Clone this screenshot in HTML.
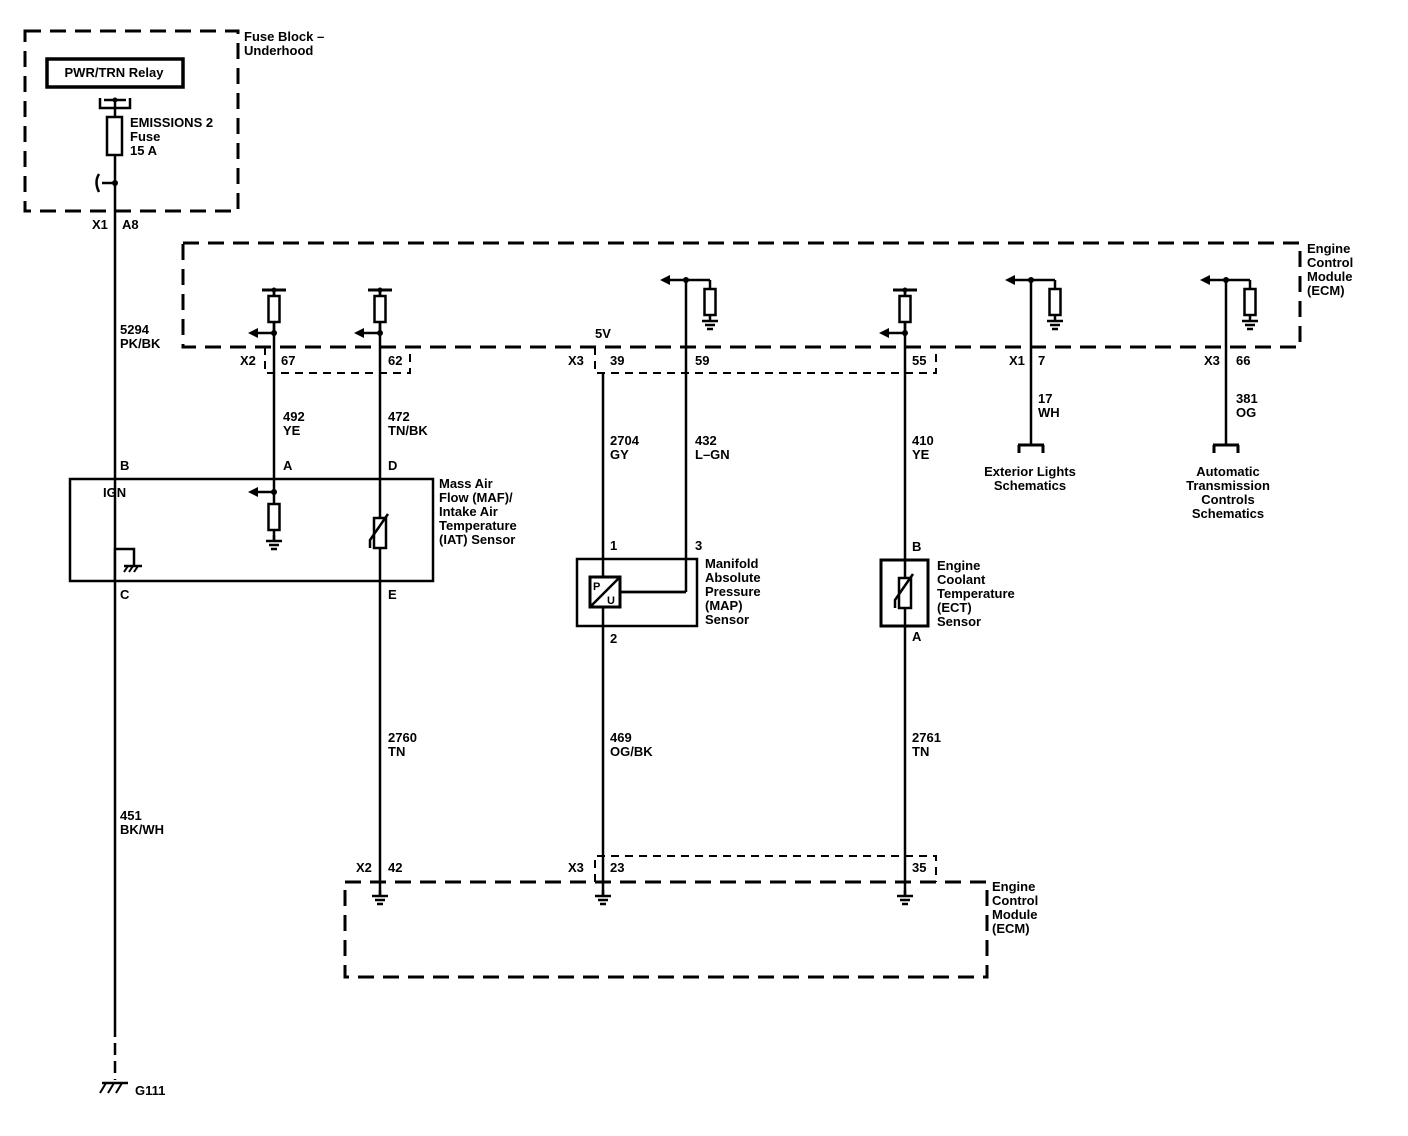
<!DOCTYPE html>
<html><head><meta charset="utf-8"><style>
body{margin:0;background:#fff;}
svg{display:block}
text{font-family:"Liberation Sans",Arial,sans-serif;font-size:13px;font-weight:bold;fill:#000;letter-spacing:0px}
</style></head><body>
<svg width="1408" height="1136" viewBox="0 0 1408 1136" xmlns="http://www.w3.org/2000/svg">
<defs>
<g id="gnd"><line x1="0" y1="0" x2="0" y2="6" stroke="#000" stroke-width="2.5"/><line x1="-8" y1="6" x2="8" y2="6" stroke="#000" stroke-width="2.5"/><line x1="-5" y1="10" x2="5" y2="10" stroke="#000" stroke-width="2.5"/><line x1="-3" y1="14" x2="3" y2="14" stroke="#000" stroke-width="2.5"/></g>
<g id="pull"><line x1="-12" y1="0" x2="12" y2="0" stroke="#000" stroke-width="3"/><circle cx="0" cy="0" r="2.5"/><line x1="0" y1="0" x2="0" y2="6" stroke="#000" stroke-width="2.5"/><rect x="-5.5" y="6" width="11" height="26" fill="#fff" stroke="#000" stroke-width="2.5"/><line x1="0" y1="32" x2="0" y2="43" stroke="#000" stroke-width="2.5"/><circle cx="0" cy="43" r="3"/><line x1="0" y1="43" x2="-18" y2="43" stroke="#000" stroke-width="2.5"/><polygon points="-26,43 -16,38 -16,48"/></g>
<g id="pdown"><circle cx="0" cy="0" r="3"/><line x1="0" y1="0" x2="-18" y2="0" stroke="#000" stroke-width="2.5"/><polygon points="-26,0 -16,-5 -16,5"/><line x1="0" y1="0" x2="24" y2="0" stroke="#000" stroke-width="2.5"/><line x1="24" y1="0" x2="24" y2="9" stroke="#000" stroke-width="2.5"/><rect x="18.5" y="9" width="11" height="26" fill="#fff" stroke="#000" stroke-width="2.5"/><use href="#gnd" x="24" y="35"/></g>
<g id="term"><line x1="-13" y1="0" x2="13" y2="0" stroke="#000" stroke-width="3"/><line x1="-12" y1="0" x2="-12" y2="8" stroke="#000" stroke-width="3"/><line x1="12" y1="0" x2="12" y2="8" stroke="#000" stroke-width="3"/></g>
<g id="therm"><rect x="-6" y="0" width="12" height="30" fill="#fff" stroke="#000" stroke-width="2.5"/><polyline points="-10,30 -10,22 8,-4" fill="none" stroke="#000" stroke-width="2.5"/></g>
</defs>
<g fill="none" stroke="#000" stroke-width="3" stroke-dasharray="16,9">
<rect x="25" y="31" width="213" height="180"/>
<rect x="183" y="243" width="1117" height="104"/>
<rect x="345" y="882" width="642" height="95"/>
</g>
<g fill="none" stroke="#000" stroke-width="2" stroke-dasharray="8,6">
<polyline points="265,347 265,373 410,373 410,347"/>
<polyline points="595,347 595,373 936,373 936,347"/>
<polyline points="595,882 595,856 936,856 936,882"/>
</g>
<rect x="47" y="59" width="136" height="28" fill="none" stroke="#000" stroke-width="3.5"/>
<text x="114" y="77" text-anchor="middle">PWR/TRN Relay</text>
<polyline points="100,98 100,108 130,108 130,98" fill="none" stroke="#000" stroke-width="2.5"/>
<line x1="104" y1="100" x2="126" y2="100" stroke="#000" stroke-width="2.5"/><circle cx="115" cy="100" r="2.5"/>
<rect x="107" y="117" width="15" height="38" fill="none" stroke="#000" stroke-width="2.5"/>
<line x1="115" y1="100" x2="115" y2="117" stroke="#000" stroke-width="2.5"/>
<text x="130" y="127">EMISSIONS 2</text><text x="130" y="141">Fuse</text><text x="130" y="155">15 A</text>
<circle cx="115" cy="183" r="3"/><line x1="102" y1="183" x2="115" y2="183" stroke="#000" stroke-width="2.5"/>
<path d="M99,174 q-5,8 0,18" fill="none" stroke="#000" stroke-width="2.5"/>
<text x="244" y="41">Fuse Block –</text><text x="244" y="55">Underhood</text>
<g stroke="#000" stroke-width="2.5">
<line x1="115" y1="155" x2="115" y2="1025"/>
<line x1="115" y1="1025" x2="115" y2="1080" stroke-dasharray="12,6"/>
<line x1="274" y1="290" x2="274" y2="540"/>
<line x1="380" y1="290" x2="380" y2="895"/>
<line x1="603" y1="373" x2="603" y2="895"/>
<line x1="686" y1="280" x2="686" y2="592"/>
<line x1="686" y1="592" x2="616" y2="592"/>
<line x1="905" y1="290" x2="905" y2="895"/>
<line x1="1031" y1="280" x2="1031" y2="445"/>
<line x1="1226" y1="280" x2="1226" y2="445"/>
</g>
<use href="#pull" x="274" y="290"/><use href="#pull" x="380" y="290"/><use href="#pull" x="905" y="290"/>
<use href="#pdown" x="686" y="280"/><use href="#pdown" x="1031" y="280"/><use href="#pdown" x="1226" y="280"/>
<text x="1307" y="253">Engine</text><text x="1307" y="267">Control</text><text x="1307" y="281">Module</text><text x="1307" y="295">(ECM)</text>
<text x="92" y="229">X1</text><text x="122" y="229">A8</text>
<text x="120" y="334">5294</text><text x="120" y="348">PK/BK</text>
<text x="240" y="365">X2</text><text x="281" y="365">67</text><text x="388" y="365">62</text>
<text x="595" y="338">5V</text><text x="568" y="365">X3</text><text x="610" y="365">39</text><text x="695" y="365">59</text><text x="912" y="365">55</text>
<text x="1009" y="365">X1</text><text x="1038" y="365">7</text><text x="1204" y="365">X3</text><text x="1236" y="365">66</text>
<text x="283" y="421">492</text><text x="283" y="435">YE</text>
<text x="388" y="421">472</text><text x="388" y="435">TN/BK</text>
<text x="610" y="445">2704</text><text x="610" y="459">GY</text>
<text x="695" y="445">432</text><text x="695" y="459">L–GN</text>
<text x="912" y="445">410</text><text x="912" y="459">YE</text>
<text x="1038" y="403">17</text><text x="1038" y="417">WH</text>
<text x="1236" y="403">381</text><text x="1236" y="417">OG</text>
<use href="#term" x="1031" y="445"/><use href="#term" x="1226" y="445"/>
<text x="1030" y="476" text-anchor="middle">Exterior Lights</text><text x="1030" y="490" text-anchor="middle">Schematics</text>
<text x="1228" y="476" text-anchor="middle">Automatic</text><text x="1228" y="490" text-anchor="middle">Transmission</text><text x="1228" y="504" text-anchor="middle">Controls</text><text x="1228" y="518" text-anchor="middle">Schematics</text>
<rect x="70" y="479" width="363" height="102" fill="none" stroke="#000" stroke-width="2.5"/>
<text x="120" y="470">B</text><text x="283" y="470">A</text><text x="388" y="470">D</text>
<text x="103" y="497">IGN</text>
<circle cx="274" cy="492" r="3"/><line x1="274" y1="492" x2="256" y2="492" stroke="#000" stroke-width="2.5"/><polygon points="248,492 258,487 258,497"/>
<rect x="268.5" y="504" width="11" height="26" fill="#fff" stroke="#000" stroke-width="2.5"/>
<use href="#gnd" x="274" y="535"/>
<use href="#therm" x="380" y="518"/>
<polyline points="115,581 115,549 134,549 134,565" fill="#fff" stroke="#000" stroke-width="2.5"/>
<line x1="124" y1="566" x2="142" y2="566" stroke="#000" stroke-width="2.5"/>
<line x1="128" y1="566" x2="124" y2="572" stroke="#000" stroke-width="2"/><line x1="133" y1="566" x2="129" y2="572" stroke="#000" stroke-width="2"/><line x1="138" y1="566" x2="134" y2="572" stroke="#000" stroke-width="2"/>
<text x="120" y="599">C</text><text x="388" y="599">E</text>
<text x="439" y="488">Mass Air</text><text x="439" y="502">Flow (MAF)/</text><text x="439" y="516">Intake Air</text><text x="439" y="530">Temperature</text><text x="439" y="544">(IAT) Sensor</text>
<rect x="577" y="559" width="120" height="67" fill="none" stroke="#000" stroke-width="2.5"/>
<rect x="590" y="577" width="30" height="30" fill="#fff" stroke="#000" stroke-width="3"/>
<line x1="591" y1="606" x2="619" y2="578" stroke="#000" stroke-width="2.5"/>
<text x="593" y="590" style="font-size:11px">P</text><text x="607" y="604" style="font-size:11px">U</text>
<line x1="620" y1="592" x2="686" y2="592" stroke="#000" stroke-width="2.5"/>
<text x="610" y="550">1</text><text x="695" y="550">3</text><text x="610" y="643">2</text>
<text x="705" y="568">Manifold</text><text x="705" y="582">Absolute</text><text x="705" y="596">Pressure</text><text x="705" y="610">(MAP)</text><text x="705" y="624">Sensor</text>
<rect x="881" y="560" width="47" height="66" fill="none" stroke="#000" stroke-width="3"/>
<use href="#therm" x="905" y="578"/>
<text x="912" y="551">B</text><text x="912" y="641">A</text>
<text x="937" y="570">Engine</text><text x="937" y="584">Coolant</text><text x="937" y="598">Temperature</text><text x="937" y="612">(ECT)</text><text x="937" y="626">Sensor</text>
<text x="388" y="742">2760</text><text x="388" y="756">TN</text>
<text x="610" y="742">469</text><text x="610" y="756">OG/BK</text>
<text x="912" y="742">2761</text><text x="912" y="756">TN</text>
<text x="120" y="820">451</text><text x="120" y="834">BK/WH</text>
<text x="356" y="872">X2</text><text x="388" y="872">42</text><text x="568" y="872">X3</text><text x="610" y="872">23</text><text x="912" y="872">35</text>
<use href="#gnd" x="380" y="890"/><use href="#gnd" x="603" y="890"/><use href="#gnd" x="905" y="890"/>
<text x="992" y="891">Engine</text><text x="992" y="905">Control</text><text x="992" y="919">Module</text><text x="992" y="933">(ECM)</text>
<line x1="102" y1="1083" x2="128" y2="1083" stroke="#000" stroke-width="2.5"/>
<line x1="106" y1="1083" x2="100" y2="1093" stroke="#000" stroke-width="2"/><line x1="114" y1="1083" x2="108" y2="1093" stroke="#000" stroke-width="2"/><line x1="122" y1="1083" x2="116" y2="1093" stroke="#000" stroke-width="2"/>
<text x="135" y="1095">G111</text>
</svg>
</body></html>
